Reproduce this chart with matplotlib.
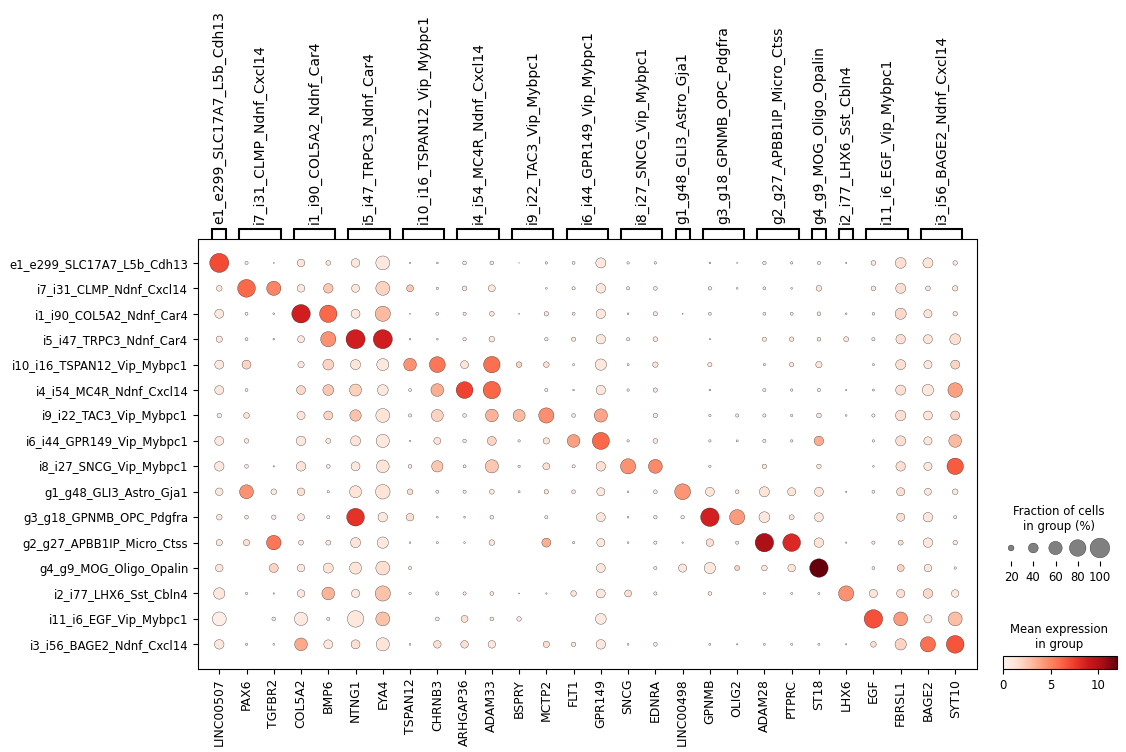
import numpy as np
import matplotlib.pyplot as plt
from matplotlib.colors import Normalize
from matplotlib.cm import ScalarMappable

# ---------- data ----------
genes = ["LINC00507", "PAX6", "TGFBR2", "COL5A2", "BMP6", "NTNG1", "EYA4",
         "TSPAN12", "CHRNB3", "ARHGAP36", "ADAM33", "BSPRY", "MCTP2", "FLT1",
         "GPR149", "SNCG", "EDNRA", "LINC00498", "GPNMB", "OLIG2", "ADAM28",
         "PTPRC", "ST18", "LHX6", "EGF", "FBRSL1", "BAGE2", "SYT10"]

cell_groups = ["e1_e299_SLC17A7_L5b_Cdh13", "i7_i31_CLMP_Ndnf_Cxcl14",
               "i1_i90_COL5A2_Ndnf_Car4", "i5_i47_TRPC3_Ndnf_Car4",
               "i10_i16_TSPAN12_Vip_Mybpc1", "i4_i54_MC4R_Ndnf_Cxcl14",
               "i9_i22_TAC3_Vip_Mybpc1", "i6_i44_GPR149_Vip_Mybpc1",
               "i8_i27_SNCG_Vip_Mybpc1", "g1_g48_GLI3_Astro_Gja1",
               "g3_g18_GPNMB_OPC_Pdgfra", "g2_g27_APBB1IP_Micro_Ctss",
               "g4_g9_MOG_Oligo_Opalin", "i2_i77_LHX6_Sst_Cbln4",
               "i11_i6_EGF_Vip_Mybpc1", "i3_i56_BAGE2_Ndnf_Cxcl14"]

# gene group brackets (label, first gene index, last gene index)
gene_group_labels = cell_groups
gene_group_start = [0, 1, 3, 5, 7, 9, 11, 13, 15, 17, 18, 20, 22, 23, 24, 26]
gene_group_end = [0, 2, 4, 6, 8, 10, 12, 14, 16, 17, 19, 21, 22, 23, 25, 27]

# fraction of cells expressing (%), rows = cell groups, cols = genes
frac_pct = [
    [96, 9, 2, 28, 15, 33, 63, 3, 4, 11, 11, 1, 6, 8, 41, 6, 6, 0, 4, 2, 10, 6, 9, 3, 15, 45, 41, 14],
    [19, 87, 65, 28, 38, 30, 63, 25, 6, 15, 25, 0, 4, 9, 38, 9, 11, 0, 10, 4, 8, 4, 19, 0, 15, 41, 15, 18],
    [35, 8, 4, 92, 85, 35, 71, 2, 8, 9, 15, 2, 14, 8, 38, 4, 13, 2, 8, 0, 8, 8, 11, 4, 7, 47, 31, 14],
    [22, 8, 4, 25, 71, 96, 96, 4, 4, 10, 19, 0, 10, 13, 38, 9, 15, 0, 3, 0, 13, 14, 11, 16, 9, 38, 35, 45],
    [35, 35, 0, 22, 45, 41, 52, 56, 75, 30, 79, 19, 19, 5, 48, 5, 18, 0, 13, 0, 6, 13, 22, 0, 5, 41, 31, 35],
    [35, 8, 0, 35, 45, 52, 45, 8, 56, 81, 85, 0, 9, 4, 38, 6, 13, 0, 4, 0, 9, 6, 9, 3, 5, 41, 48, 67],
    [14, 19, 0, 31, 35, 48, 63, 9, 52, 11, 56, 52, 71, 11, 59, 0, 14, 0, 6, 9, 9, 6, 15, 4, 9, 43, 35, 35],
    [35, 14, 0, 38, 16, 41, 59, 3, 25, 10, 35, 6, 22, 56, 83, 6, 15, 0, 6, 5, 9, 6, 38, 0, 6, 41, 31, 56],
    [38, 11, 3, 38, 11, 35, 56, 11, 48, 8, 59, 6, 25, 9, 38, 71, 63, 0, 6, 0, 14, 0, 14, 0, 4, 38, 31, 79],
    [28, 63, 19, 28, 6, 52, 67, 19, 8, 9, 15, 5, 14, 11, 31, 4, 11, 75, 35, 11, 41, 31, 35, 3, 8, 31, 25, 19],
    [19, 11, 14, 25, 9, 87, 38, 28, 4, 4, 11, 0, 9, 0, 35, 4, 10, 10, 92, 71, 45, 16, 35, 0, 0, 31, 38, 9],
    [22, 22, 67, 16, 16, 41, 48, 4, 5, 4, 19, 0, 35, 6, 31, 4, 9, 3, 28, 9, 92, 87, 38, 3, 9, 16, 38, 14],
    [28, 0, 35, 28, 41, 52, 63, 9, 0, 0, 0, 0, 0, 0, 35, 0, 9, 31, 48, 16, 19, 28, 92, 0, 8, 25, 28, 6],
    [48, 6, 3, 28, 56, 31, 71, 6, 9, 9, 11, 2, 3, 19, 35, 25, 9, 0, 11, 0, 5, 5, 5, 71, 31, 31, 38, 28],
    [63, 0, 11, 59, 9, 79, 63, 0, 11, 25, 11, 14, 0, 0, 45, 0, 0, 0, 0, 0, 0, 0, 0, 0, 92, 63, 31, 63],
    [38, 6, 4, 56, 35, 35, 59, 4, 28, 28, 28, 0, 22, 14, 38, 4, 11, 0, 5, 3, 5, 5, 5, 3, 19, 48, 71, 87],
]

# mean expression in group
mean_expr = [
    [7.0, 0.8, 0.5, 1.2, 1.0, 1.0, 1.0, 0.5, 0.8, 0.8, 0.8, 0.5, 0.8, 0.8, 1.0, 0.8, 0.8, 0.0, 0.8, 0.5, 0.8, 0.8, 0.8, 0.5, 1.0, 1.5, 1.2, 0.8],
    [1.0, 6.0, 5.0, 1.0, 2.5, 1.0, 2.0, 2.5, 0.8, 1.0, 1.0, 0.0, 0.5, 0.8, 1.0, 0.8, 0.8, 0.0, 0.8, 0.5, 0.8, 0.5, 1.0, 0.0, 1.0, 1.5, 1.0, 1.2],
    [1.0, 0.8, 0.5, 8.8, 6.0, 1.0, 3.0, 0.5, 0.8, 0.8, 1.0, 0.5, 1.0, 0.8, 1.0, 0.5, 1.0, 0.5, 0.8, 0.0, 0.8, 0.8, 1.0, 0.5, 0.8, 1.8, 1.2, 1.0],
    [1.0, 0.8, 0.5, 1.0, 4.5, 8.8, 8.8, 0.5, 0.5, 0.8, 1.0, 0.0, 0.8, 1.0, 1.0, 0.8, 1.0, 0.0, 0.5, 0.0, 0.8, 1.0, 1.0, 1.0, 0.8, 1.5, 1.2, 1.5],
    [1.0, 2.0, 0.0, 1.0, 2.0, 1.2, 1.0, 4.5, 5.5, 1.2, 5.8, 2.0, 1.5, 0.8, 1.0, 0.8, 1.2, 0.0, 0.8, 0.0, 0.8, 0.8, 1.2, 0.0, 0.8, 1.5, 1.0, 2.0],
    [1.0, 0.8, 0.0, 1.8, 2.5, 2.2, 1.0, 0.8, 3.5, 7.3, 6.1, 0.0, 0.8, 0.8, 1.0, 0.8, 1.0, 0.0, 0.5, 0.0, 0.8, 0.8, 0.8, 0.5, 0.8, 1.5, 1.0, 4.0],
    [0.8, 1.2, 0.0, 1.2, 2.0, 2.7, 1.2, 0.8, 2.0, 0.8, 3.3, 3.0, 4.6, 0.8, 3.8, 0.0, 1.0, 0.0, 0.5, 0.8, 0.8, 0.8, 1.0, 0.5, 0.8, 1.5, 1.2, 2.0],
    [1.0, 0.8, 0.0, 1.0, 0.8, 1.2, 1.0, 0.5, 1.2, 0.8, 2.0, 0.8, 1.2, 4.0, 6.0, 0.8, 1.0, 0.0, 0.8, 0.5, 0.8, 0.8, 3.5, 0.0, 0.8, 1.5, 1.0, 3.0],
    [1.0, 0.8, 0.5, 1.2, 0.8, 1.0, 1.2, 1.0, 2.5, 0.8, 2.5, 0.8, 1.5, 0.8, 1.5, 4.5, 4.8, 0.0, 0.5, 0.0, 1.0, 0.0, 1.0, 0.0, 0.5, 1.5, 1.0, 6.5],
    [1.0, 4.5, 0.8, 1.5, 0.5, 1.2, 1.2, 1.5, 0.8, 0.8, 0.8, 0.8, 1.0, 0.8, 1.0, 0.5, 0.8, 4.4, 1.2, 0.8, 1.2, 1.2, 1.2, 0.5, 0.8, 1.5, 1.0, 1.0],
    [1.0, 0.8, 0.8, 1.0, 0.5, 7.9, 1.0, 1.5, 0.5, 0.5, 0.8, 0.0, 0.8, 0.0, 1.0, 0.5, 0.8, 0.8, 8.7, 4.2, 1.0, 1.2, 1.0, 0.0, 0.0, 1.5, 1.0, 0.8],
    [1.0, 1.5, 5.5, 1.0, 0.8, 1.2, 1.0, 0.5, 0.5, 0.5, 1.0, 0.0, 3.5, 0.5, 1.0, 0.5, 0.8, 0.5, 1.5, 0.8, 10.2, 8.3, 1.2, 0.5, 0.8, 1.5, 1.0, 0.8],
    [1.0, 0.0, 2.0, 1.0, 1.2, 1.2, 1.5, 0.8, 0.0, 0.0, 0.0, 0.0, 0.0, 0.0, 1.0, 0.0, 0.8, 1.0, 1.0, 2.0, 1.0, 1.2, 12.0, 0.0, 0.8, 2.0, 1.0, 0.8],
    [1.0, 0.5, 0.5, 1.0, 3.3, 1.0, 2.7, 0.5, 0.8, 0.8, 0.8, 0.5, 0.5, 1.2, 1.0, 1.5, 0.8, 0.0, 0.8, 0.0, 0.5, 0.5, 0.5, 4.5, 1.2, 1.5, 1.8, 1.0],
    [0.5, 0.0, 0.8, 0.8, 0.8, 1.0, 2.7, 0.0, 0.8, 1.5, 0.8, 0.8, 0.0, 0.0, 0.8, 0.0, 0.0, 0.0, 0.0, 0.0, 0.0, 0.0, 0.0, 0.0, 6.8, 4.2, 0.8, 2.9],
    [1.0, 0.8, 0.5, 3.7, 1.0, 1.5, 1.2, 0.5, 1.5, 1.5, 1.0, 0.0, 1.5, 1.0, 1.0, 0.5, 0.8, 0.0, 0.5, 0.5, 0.5, 0.5, 0.5, 0.5, 1.5, 2.0, 5.8, 6.7],
]

legend_fracs = [20, 40, 60, 80, 100]
vmax = 12.0

# ---------- layout helpers (pixel boxes) ----------
W, H = 1126, 752
fig = plt.figure(figsize=(W / 100, H / 100), dpi=100)


def px_axes(x0, y0, x1, y1):
    return fig.add_axes([x0 / W, 1 - y1 / H, (x1 - x0) / W, (y1 - y0) / H])


def dot_size(f):
    # scanpy style: (frac / dot_max) ** 1.5 * largest_dot
    return np.asarray(f) ** 1.5 * 200


# ---------- main dot plot ----------
ax = px_axes(198, 239, 977, 669)
frac = np.array(frac_pct, dtype=float) / 100
expr = np.array(mean_expr, dtype=float)
n_rows, n_cols = frac.shape
xx, yy = np.meshgrid(np.arange(n_cols), np.arange(n_rows))
mask = frac > 0
norm = Normalize(vmin=0, vmax=vmax)
ax.scatter(xx[mask], yy[mask], s=dot_size(frac[mask]), c=expr[mask],
           cmap="Reds", norm=norm, edgecolors="black", linewidths=0.2)

xlim = (-0.78, n_cols - 1 + 0.8)
ax.set_xlim(*xlim)
ax.set_ylim(n_rows - 1 + 0.97, -0.94)
ax.set_xticks(np.arange(n_cols))
ax.set_xticklabels(genes, rotation=90, fontsize=8.9)
ax.set_yticks(np.arange(n_rows))
ax.set_yticklabels(cell_groups, fontsize=8.33)

# ---------- gene group brackets ----------
axb = px_axes(198, 229, 977, 239)
axb.set_xlim(*xlim)
axb.set_ylim(0, 1)
axb.axis("off")
for lab, s, e in zip(gene_group_labels, gene_group_start, gene_group_end):
    axb.plot([s - 0.26, s - 0.26, e + 0.26, e + 0.26], [0.1, 1, 1, 0.1],
             color="black", lw=1.5, clip_on=False, solid_joinstyle="miter")
    axb.annotate(lab, xy=((s + e) / 2, 1), xytext=(0, 3.5),
                 textcoords="offset points", rotation=90,
                 ha="center", va="bottom", fontsize=10)

# ---------- size legend ----------
fig.text(1059 / W, 1 - 519 / H, "Fraction of cells\nin group (%)",
         ha="center", va="center", fontsize=8.33, multialignment="center")
axs = px_axes(1000, 535, 1111, 561)
pos = np.arange(len(legend_fracs))
axs.scatter(pos, np.full(len(pos), 0.5), s=dot_size(np.array(legend_fracs) / 100),
            color="gray", edgecolors="black", linewidths=0.2)
axs.set_xlim(-0.5, len(pos) - 0.5)
axs.set_ylim(0, 1)
axs.set_xticks(pos)
axs.set_xticklabels([str(v) for v in legend_fracs], fontsize=8.33)
axs.set_yticks([])
for sp in axs.spines.values():
    sp.set_visible(False)

# ---------- colorbar ----------
fig.text(1059 / W, 1 - 637 / H, "Mean expression\nin group",
         ha="center", va="center", fontsize=8.33, multialignment="center")
axc = px_axes(1003, 656, 1117, 669)
cb = fig.colorbar(ScalarMappable(norm=norm, cmap="Reds"), cax=axc,
                  orientation="horizontal")
cb.set_ticks([0, 5, 10])
cb.ax.tick_params(labelsize=8.33)

fig.savefig("out.png", dpi=100)
